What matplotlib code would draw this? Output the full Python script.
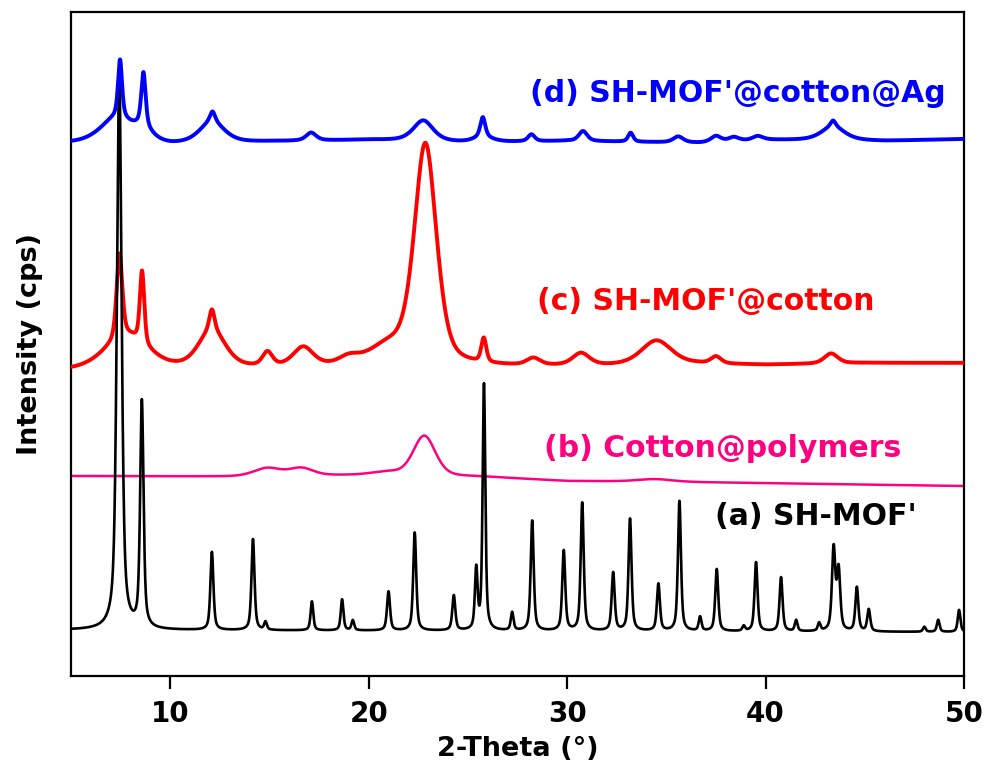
import numpy as np
import matplotlib

matplotlib.use('Agg')
import matplotlib.pyplot as plt

plt.rcParams['font.family'] = 'DejaVu Sans'
plt.rcParams['font.weight'] = 'bold'

# (a) SH-MOF' : peak position (2-theta), height above background, half width
a_pos = [7.43, 8.57, 12.10, 14.17, 14.80, 17.14, 18.66, 19.20, 21.00, 22.32,
         24.29, 25.42, 25.81, 27.23, 28.24, 29.83, 30.76, 32.32, 33.17, 34.60,
         35.66, 36.70, 37.54, 38.90, 39.52, 40.78, 41.54, 42.70, 43.43, 43.68,
         44.60, 45.20, 48.00, 48.70, 49.75]
a_height = [559, 226, 78, 91, 8, 29, 31, 10, 39, 98,
            35, 60, 246, 18, 110, 80, 128, 58, 112, 47,
            130, 14, 62, 5, 69, 54, 11, 8, 82, 60,
            44, 22, 5, 12, 22]
a_width = [0.14, 0.10, 0.09, 0.09, 0.08, 0.08, 0.08, 0.08, 0.09, 0.09,
           0.09, 0.08, 0.08, 0.08, 0.09, 0.09, 0.09, 0.09, 0.09, 0.09,
           0.09, 0.08, 0.09, 0.08, 0.09, 0.09, 0.08, 0.08, 0.10, 0.10,
           0.09, 0.09, 0.08, 0.08, 0.08]
a_base_x = [5, 50]
a_base_y = [46, 44]

# (b) Cotton@polymers
b_pos = [14.9, 16.6, 20.9, 22.8, 34.4]
b_height = [8, 7.5, 3, 40, 2.5]
b_width = [0.8, 0.7, 0.8, 0.66, 1.0]
b_base_x = [5, 13, 20, 25.7, 30, 35, 50]
b_base_y = [200, 199.5, 201, 199.3, 195, 194.3, 190]

# (c) SH-MOF'@cotton
c_pos = [7.44, 7.8, 8.58, 12.1, 12.1, 14.9, 16.7, 19.0, 21.0, 22.86,
         25.8, 28.3, 30.7, 34.5, 37.5, 43.3]
c_height = [84, 34, 72, 20, 38, 14, 19, 7, 18, 220,
            24, 7, 12, 24, 7, 10]
c_width = [0.17, 1.3, 0.13, 0.15, 0.8, 0.3, 0.6, 0.6, 1.2, 0.66,
           0.15, 0.4, 0.5, 0.9, 0.3, 0.4]
c_base_x = [5, 10, 13.7, 17.7, 26.8, 32, 36.5, 40, 45, 50]
c_base_y = [305, 306, 307, 308, 309, 310, 312, 311, 313, 313]

# (d) SH-MOF'@cotton@Ag
d_pos = [7.3, 7.47, 8.65, 8.65, 12.1, 12.13, 17.1, 22.75, 25.75, 25.75,
         28.2, 30.8, 33.2, 35.6, 37.5, 38.4, 39.6, 43.4, 43.4]
d_height = [26, 58, 54, 10, 22, 10, 8, 21, 20, 5,
            7, 10, 9, 6, 6, 4, 4, 14, 6]
d_width = [1.0, 0.12, 0.13, 0.6, 0.75, 0.15, 0.3, 0.6, 0.15, 0.6,
           0.2, 0.25, 0.15, 0.3, 0.3, 0.3, 0.3, 0.7, 0.15]
d_base_x = [5, 10, 15, 20, 25, 30, 36.7, 40, 46, 50]
d_base_y = [532, 530, 534, 536, 533, 535, 533, 536, 535, 537]

theta = np.linspace(5, 50, 4501)


def pattern(pos, height, width, base_x, base_y, eta):
    # pseudo-Voigt peaks on top of a piecewise background
    y = np.interp(theta, base_x, base_y)
    for c, h, w in zip(pos, height, width):
        d = ((theta - c) / w) ** 2
        y = y + h * (eta / (1 + d) + (1 - eta) * np.exp(-np.log(2) * d))
    return y


def main():
    fig = plt.figure(figsize=(9.85, 7.71), dpi=100)
    ax = fig.add_axes([0.0721, 0.1232, 0.9066, 0.8612])

    ax.plot(theta, pattern(b_pos, b_height, b_width, b_base_x, b_base_y, 0.3),
            color='#ff0080', lw=1.8, zorder=2)
    ax.plot(theta, pattern(c_pos, c_height, c_width, c_base_x, c_base_y, 0.45),
            color='#ff0000', lw=2.8, zorder=3)
    ax.plot(theta, pattern(a_pos, a_height, a_width, a_base_x, a_base_y, 0.6),
            color='black', lw=1.9, zorder=4)
    ax.plot(theta, pattern(d_pos, d_height, d_width, d_base_x, d_base_y, 0.6),
            color='#0000ff', lw=2.8, zorder=5)

    lab = dict(fontsize=21.5, fontweight='bold', ha='left', va='baseline')
    ax.text(28.11, 574, "(d) SH-MOF'@cotton@Ag", color='#0000ff', **lab)
    ax.text(28.46, 366, "(c) SH-MOF'@cotton", color='#ff0000', **lab)
    ax.text(28.81, 219, "(b) Cotton@polymers", color='#ff0080', **lab)
    ax.text(37.44, 151, "(a) SH-MOF'", color='black', **lab)

    ax.set_xlim(5, 50)
    ax.set_ylim(0, 664)
    ax.set_xticks([10, 20, 30, 40, 50])
    ax.set_yticks([])
    ax.tick_params(axis='x', direction='out', length=9, width=1.6,
                   labelsize=20, pad=8)
    for lbl in ax.get_xticklabels():
        lbl.set_fontweight('bold')
    for sp in ax.spines.values():
        sp.set_linewidth(1.6)

    ax.set_xlabel('2-Theta (°)', fontsize=19.5, fontweight='bold', labelpad=6)
    ax.set_ylabel('Intensity (cps)', fontsize=19.5, fontweight='bold', labelpad=20)

    fig.savefig('out.png', dpi=100)


if __name__ == '__main__':
    main()
